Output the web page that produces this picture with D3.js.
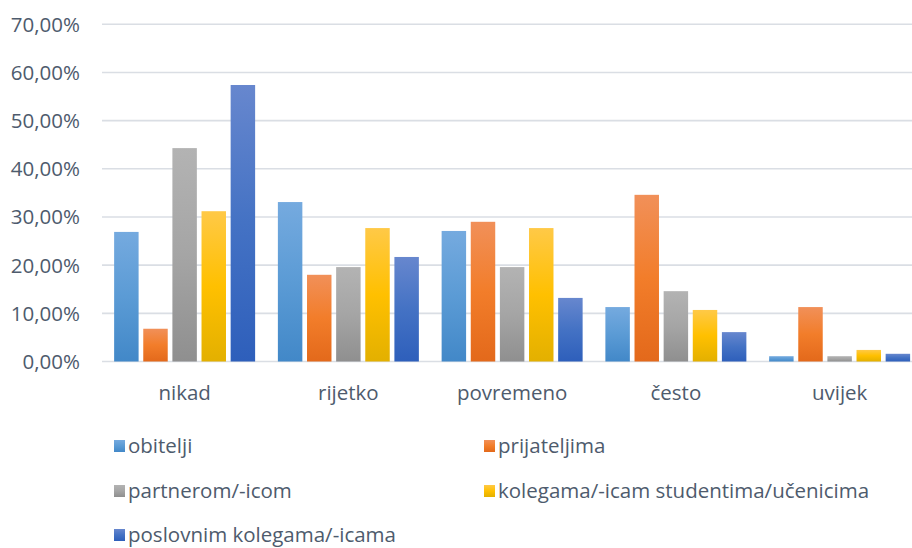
<!DOCTYPE html>
<html lang="hr">
<head>
<meta charset="UTF-8" />
<title>Učestalost</title>
<style>
  body { margin: 0; background: #fff; }
  svg text { font-family: "Open Sans", sans-serif; fill: #4e5b6d; }
</style>
</head>
<body>
<script src="https://cdn.jsdelivr.net/npm/d3@7"></script>
<div id="app"></div>
<script>
// categories and series
const categories = ["nikad", "rijetko", "povremeno", "često", "uvijek"];
const seriesNames = ["obitelji", "prijateljima", "partnerom/-icom", "kolegama/-icam studentima/učenicima", "poslovnim kolegama/-icama"];
// values per series (fraction), in category order
const obitelji = [0.269, 0.331, 0.271, 0.113, 0.011];
const prijateljima = [0.068, 0.180, 0.290, 0.346, 0.113];
const partnerom = [0.443, 0.196, 0.196, 0.146, 0.011];
const kolegama = [0.312, 0.277, 0.277, 0.107, 0.024];
const poslovnim = [0.574, 0.217, 0.132, 0.061, 0.016];
const yTicks = [0, 0.1, 0.2, 0.3, 0.4, 0.5, 0.6, 0.7];

const allSeries = [obitelji, prijateljima, partnerom, kolegama, poslovnim];
// top / middle / bottom gradient colours
const colors = [
  ["#75aadf", "#5b9bd5", "#4288c8"],
  ["#f19059", "#f27d2a", "#e3691b"],
  ["#b3b3b3", "#a5a5a5", "#8f8f8f"],
  ["#ffc947", "#ffc000", "#e3b000"],
  ["#6787ce", "#4472c4", "#2e5fbb"]
];

const w = 912, h = 548;
const svg = d3.select("#app").append("svg")
  .attr("width", w).attr("height", h);

const defs = svg.append("defs");
colors.forEach((c, i) => {
  const g = defs.append("linearGradient")
    .attr("id", "grad" + i)
    .attr("x1", 0).attr("y1", 0).attr("x2", 0).attr("y2", 1);
  g.append("stop").attr("offset", "0%").attr("stop-color", c[0]);
  g.append("stop").attr("offset", "50%").attr("stop-color", c[1]);
  g.append("stop").attr("offset", "100%").attr("stop-color", c[2]);
});

const x0 = d3.scaleBand()
  .domain(categories)
  .range([102.75, 921.5])
  .paddingInner(0.139)
  .paddingOuter(0.0695);

const x1 = d3.scaleBand()
  .domain(d3.range(seriesNames.length))
  .range([0, x0.bandwidth()])
  .paddingInner(0.16);

const y = d3.scaleLinear()
  .domain([0, 0.7])
  .range([361.5, 24.3]);

// gridlines
svg.append("g")
  .selectAll("line")
  .data(yTicks)
  .enter()
  .append("line")
  .attr("x1", 102).attr("x2", w)
  .attr("y1", d => y(d)).attr("y2", d => y(d))
  .attr("stroke", "#dadee4")
  .attr("stroke-width", 1.6);

// y tick labels
const fmt = d => d3.format(".2f")(d * 100).replace(".", ",") + "%";
svg.append("g")
  .selectAll("text")
  .data(yTicks)
  .enter()
  .append("text")
  .attr("x", 80)
  .attr("y", d => y(d))
  .attr("dy", "0.36em")
  .attr("text-anchor", "end")
  .style("font-size", "20.5px")
  .text(fmt);

// bars
const groups = svg.append("g")
  .selectAll("g")
  .data(categories)
  .enter()
  .append("g")
  .attr("transform", d => "translate(" + x0(d) + ",0)");

groups.selectAll("rect")
  .data((c, ci) => allSeries.map((s, si) => ({ si: si, v: s[ci] })))
  .enter()
  .append("rect")
  .attr("x", d => x1(d.si))
  .attr("width", x1.bandwidth())
  .attr("y", d => y(d.v))
  .attr("height", d => y(0) - y(d.v))
  .attr("fill", d => "url(#grad" + d.si + ")");

// category labels
svg.append("g")
  .selectAll("text")
  .data(categories)
  .enter()
  .append("text")
  .attr("x", d => x0(d) + x0.bandwidth() / 2)
  .attr("y", 400)
  .attr("text-anchor", "middle")
  .style("font-size", "20.5px")
  .text(d => d);

// legend
const legPos = [[114, 446], [484, 446], [114, 491], [484, 491], [114, 535]];
const leg = svg.append("g")
  .selectAll("g")
  .data(seriesNames)
  .enter()
  .append("g")
  .attr("transform", (d, i) => "translate(" + legPos[i][0] + "," + legPos[i][1] + ")");

leg.append("rect")
  .attr("x", 0).attr("y", -6)
  .attr("width", 11).attr("height", 12)
  .attr("fill", (d, i) => "url(#grad" + i + ")");

leg.append("text")
  .attr("x", 14)
  .attr("y", 0)
  .attr("dy", "0.33em")
  .style("font-size", "20.5px")
  .text(d => d);
</script>
</body>
</html>
